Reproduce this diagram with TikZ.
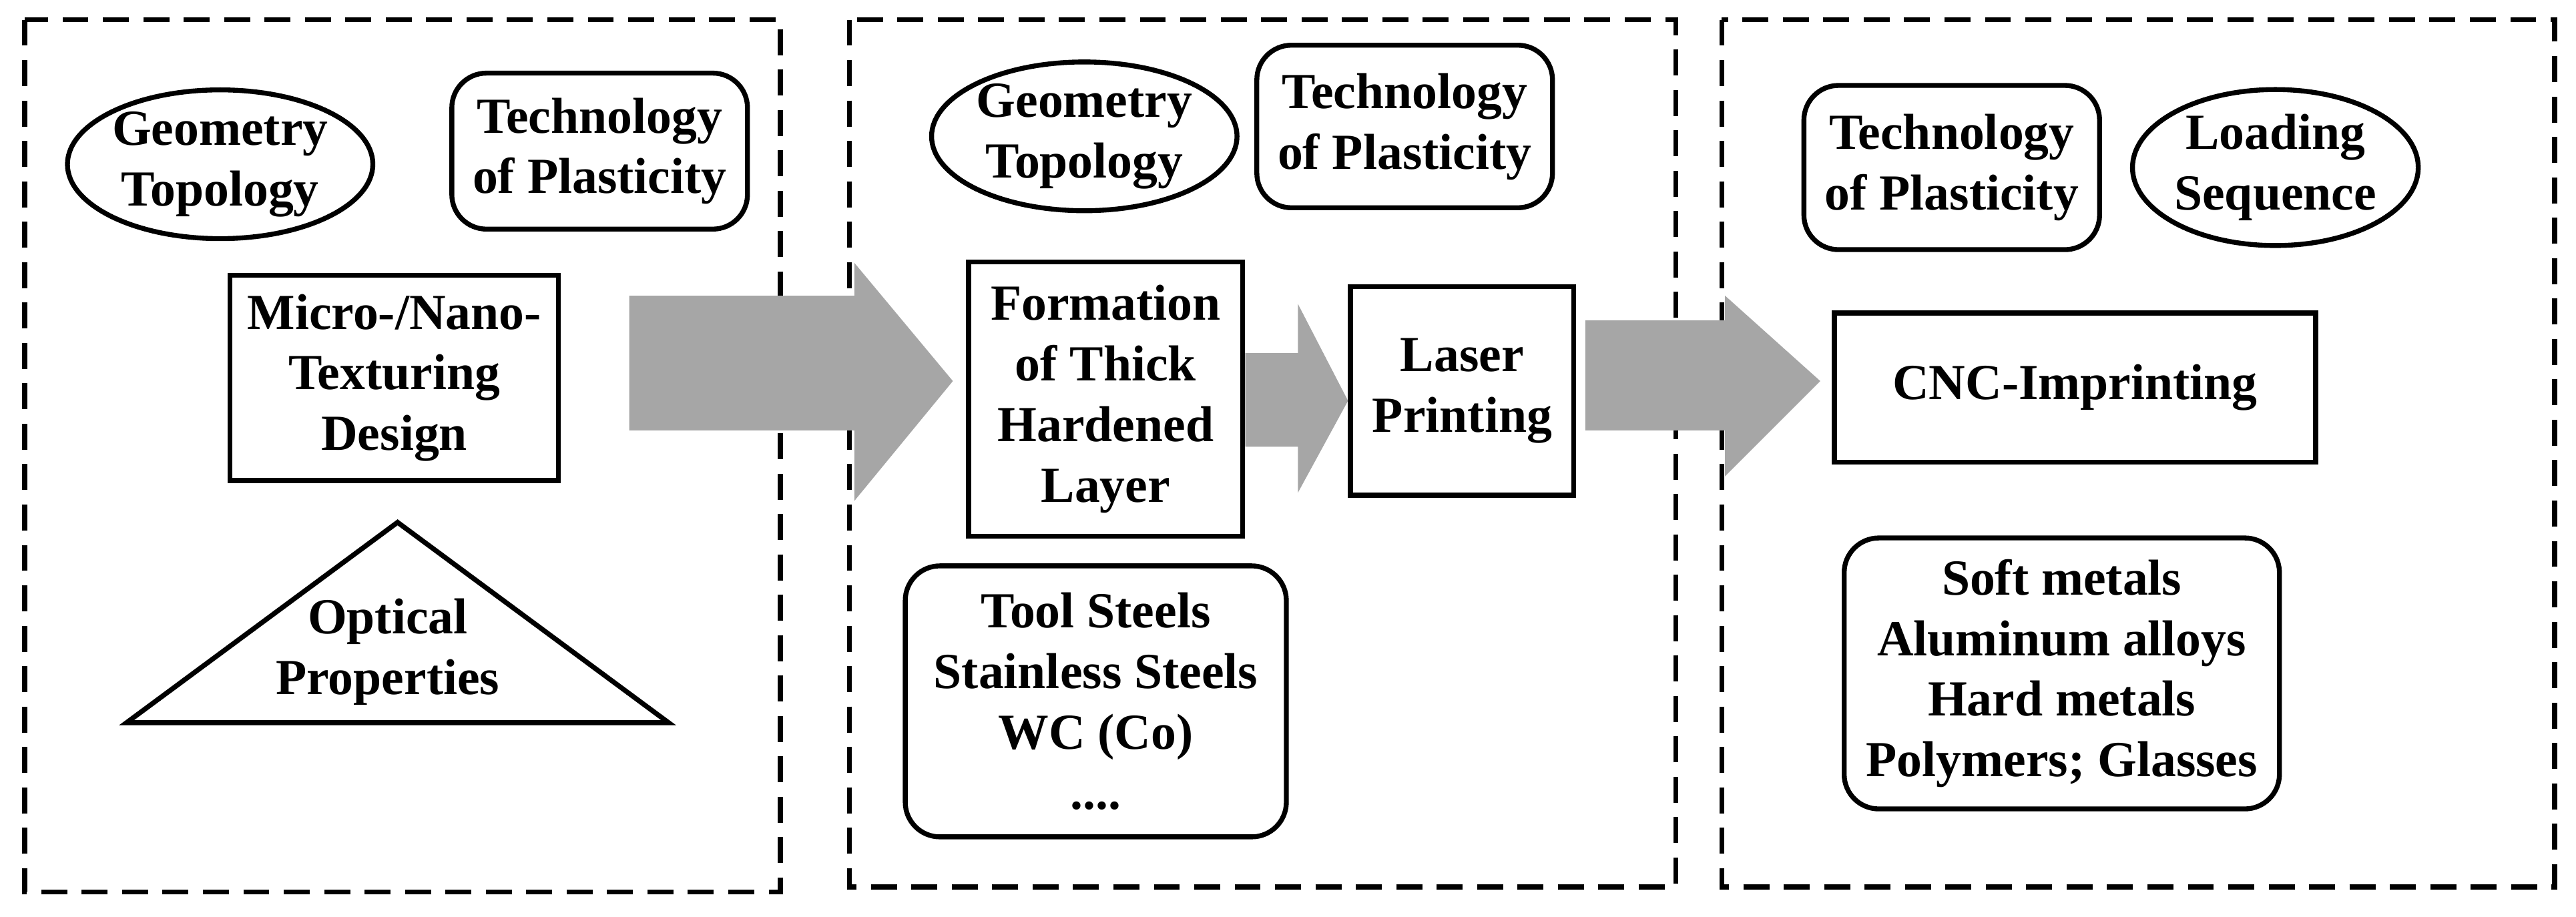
\documentclass[tikz,border=0pt]{standalone}
\usepackage{fontspec}
\setmainfont{Liberation Serif}
\usetikzlibrary{shapes.geometric}
\begin{document}
\begin{tikzpicture}[x=0.02cm,y=-0.02cm,
  txt/.style={font=\fontsize{17.5}{21}\selectfont\bfseries,align=center},
  box/.style={draw,line width=1.7pt,txt,inner sep=0pt},
  rbox/.style={box,rounded corners=12pt},
  ell/.style={draw,ellipse,line width=1.7pt,txt,inner sep=0pt},
  panel/.style={draw,line width=1.7pt,dash pattern=on 9pt off 5pt},
  big/.style={fill=black!35,draw=none}]
\useasboundingbox (0,0) rectangle (1568,558);
\draw[panel] (15,12) rectangle (475,543);
\draw[panel] (517,12) rectangle (1020,540);
\draw[panel] (1048,12) rectangle (1555,540);
% panel 1
\node[ell,minimum width=3.7cm,minimum height=1.7cm] (g1) at (134,100) {Geometry\\Topology};
\node[rbox,minimum width=3.6cm,minimum height=1.9cm] (t1) at (365,92) {Technology\\of Plasticity};
\node[box,minimum width=4cm,minimum height=2.5cm] (m1) at (240,230) {Micro-/Nano-\\Texturing\\Design};
\draw[line width=1.7pt] (242,318) -- (407,440) -- (77,440) -- cycle;
\node[txt] (o1) at (236,397) {Optical\\Properties};
% arrow 1
\draw[big] (383,180) -- (520,180) -- (520,160) -- (580,232) -- (520,305) -- (520,262) -- (383,262) -- cycle;
% panel 2
\node[ell,minimum width=3.6cm,minimum height=1.6cm] (g2) at (660,83) {Geometry\\Topology};
\node[rbox,minimum width=3.6cm,minimum height=1.98cm] (t2) at (855,77) {Technology\\of Plasticity};
\node[box,minimum width=3.34cm,minimum height=3.34cm] (f2) at (673,243) {Formation\\of Thick\\Hardened\\Layer};
\node[box,minimum width=2.72cm,minimum height=2.54cm] (l2) at (890,238) {Laser\\Printing};
\draw[big] (f2.east|-0,215) -- (790,215) -- (790,185) -- (l2.west|-0,244) -- (790,300) -- (790,272) -- (f2.east|-0,272) -- cycle;
\node[rbox,minimum width=4.64cm,minimum height=3.3cm] (s2) at (667,427) {Tool Steels\\Stainless Steels\\WC (Co)\\....};
% arrow 2
\draw[big] (965,195) -- (1050,195) -- (1050,180) -- (1108,232) -- (1050,290) -- (1050,262) -- (965,262) -- cycle;
% panel 3
\node[rbox,minimum width=3.6cm,minimum height=2cm] (t3) at (1188,102) {Technology\\of Plasticity};
\node[ell,minimum width=3.36cm,minimum height=1.9cm] (ls3) at (1385,102) {Loading\\Sequence};
\node[box,minimum width=5.86cm,minimum height=1.82cm] (c3) at (1263,236) {CNC-Imprinting};
\node[rbox,minimum width=5.3cm,minimum height=3.3cm] (s3) at (1255,410) {Soft metals\\Aluminum alloys\\Hard metals\\Polymers; Glasses};
\end{tikzpicture}
\end{document}
